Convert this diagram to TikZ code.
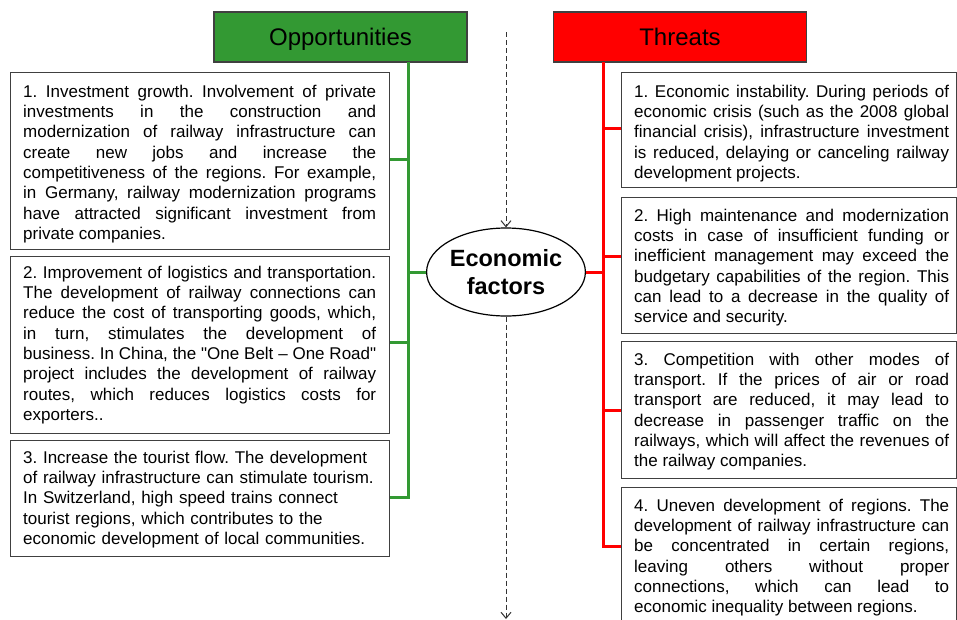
\documentclass[tikz,border=0pt]{standalone}
\usepackage{fontspec}
\setmainfont{Liberation Sans}[Ligatures=TeXOff]
\usetikzlibrary{shapes.geometric,arrows.meta}
\definecolor{oppgreen}{HTML}{339933}
\definecolor{thrred}{HTML}{FF0000}
\definecolor{boxgray}{HTML}{404040}
\newcommand\jbr{\linebreak}
\newcommand\firstline{\rule{0pt}{14pt}}
\hyphenpenalty=10000\relax
\exhyphenpenalty=10000\relax
\tolerance=10000\relax
\frenchspacing
\begin{document}
\begin{tikzpicture}[x=1pt,y=-1pt,
  boxnode/.style={draw=boxgray, line width=1.3pt, fill=white, inner sep=0pt, anchor=north west, rectangle},
  txtnode/.style={inner sep=0pt, anchor=north west, align=justify,
    font=\fontsize{17}{20.3}\selectfont},
  headnode/.style={draw=boxgray, line width=1.2pt, minimum width=253pt, minimum height=50pt, inner sep=0pt,
    font=\fontsize{24}{28}\selectfont, text height=17pt, text depth=0pt},
  gline/.style={draw=oppgreen, line width=3pt, line join=miter},
  rline/.style={draw=thrred, line width=3pt, line join=miter},
  dashline/.style={draw=black!80, line width=1pt, dash pattern=on 5pt off 3pt, -{Straight Barb[length=6pt,width=10pt]}}
]
\clip (0,0) rectangle (957,619);
\fill[white] (0,0) rectangle (957,619);

% headers
\node[headnode, fill=oppgreen] (opp) at (340.5,37) {Opportunities};
\node[headnode, fill=thrred] (thr) at (680,37) {Threats};

% central ellipse
\node[ellipse, draw=black, line width=1.2pt, fill=white, minimum width=156pt, minimum height=88pt, inner sep=0pt,
  align=center, font=\bfseries\fontsize{23.5}{28}\selectfont] (E) at (506,272) {Economic\\factors};

% dashed arrows
\coordinate (dtop) at (506,32);
\coordinate (dbot) at (506,619);
\draw[dashline] (dtop) -- (E.north);
\draw[dashline] (E.south) -- (dbot);

% left boxes
\node[boxnode, minimum width=379pt, minimum height=177pt] (L1) at (10,72) {};
\node[boxnode, minimum width=379pt, minimum height=177pt] (L2) at (10,256) {};
\node[boxnode, minimum width=379pt, minimum height=116pt] (L3) at (10,440) {};

\node[txtnode, text width=353pt] (L1t) at (23,83) {\firstline 1. Investment growth. Involvement of private\jbr
investments in the construction and\jbr
modernization of railway infrastructure can\jbr
create new jobs and increase the\jbr
competitiveness of the regions. For example,\jbr
in Germany, railway modernization programs\jbr
have attracted significant investment from\jbr
private companies.};

\node[txtnode, text width=353pt] (L2t) at (23,264) {\firstline 2. Improvement of logistics and transportation.\jbr
The development of railway connections can\jbr
reduce the cost of transporting goods, which,\jbr
in turn, stimulates the development of\jbr
business. In China, the "One Belt – One Road"\jbr
project includes the development of railway\jbr
routes, which reduces logistics costs for\jbr
exporters..};

\node[txtnode, text width=353pt, align=left] (L3t) at (23,449) {\firstline 3. Increase the tourist flow. The development\\
of railway infrastructure can stimulate tourism.\\
In Switzerland, high speed trains connect\\
tourist regions, which contributes to the\\
economic development of local communities.};

% right boxes
\node[boxnode, minimum width=335pt, minimum height=115pt] (R1) at (621,72) {};
\node[boxnode, minimum width=335pt, minimum height=136pt] (R2) at (621,197) {};
\node[boxnode, minimum width=335pt, minimum height=137pt] (R3) at (621,341) {};
\node[boxnode, minimum width=335pt, minimum height=150pt] (R4) at (621,487) {};

\node[txtnode, text width=315pt] (R1t) at (634,83) {\firstline 1. Economic instability. During periods of\jbr
economic crisis (such as the 2008 global\jbr
financial crisis), infrastructure investment\jbr
is reduced, delaying or canceling railway\jbr
development projects.};

\node[txtnode, text width=315pt] (R2t) at (634,207) {\firstline 2. High maintenance and modernization\jbr
costs in case of insufficient funding or\jbr
inefficient management may exceed the\jbr
budgetary capabilities of the region. This\jbr
can lead to a decrease in the quality of\jbr
service and security.};

\node[txtnode, text width=315pt] (R3t) at (634,351) {\firstline 3. Competition with other modes of\jbr
transport. If the prices of air or road\jbr
transport are reduced, it may lead to\jbr
decrease in passenger traffic on the\jbr
railways, which will affect the revenues of\jbr
the railway companies.};

\node[txtnode, text width=315pt] (R4t) at (634,497) {\firstline 4. Uneven development of regions. The\jbr
development of railway infrastructure can\jbr
be concentrated in certain regions,\jbr
leaving others without proper\jbr
connections, which can lead to\jbr
economic inequality between regions.};

% green connectors
\coordinate (gtop) at (408,62);
\coordinate (g1) at (408,159);
\coordinate (g2) at (408,272);
\coordinate (g3) at (408,342);
\coordinate (gbot) at (408,497);
\draw[gline] (gtop) -- (gbot) -- (gbot -| L3.east);
\draw[gline] (g1) -- (g1 -| L1.east);
\draw[gline] (g2) -- (E.west);
\draw[gline] (g3) -- (g3 -| L2.east);

% red connectors
\coordinate (rtop) at (603,62);
\coordinate (r1) at (603,128);
\coordinate (r2) at (603,256);
\coordinate (r3) at (603,272);
\coordinate (r4) at (603,410);
\coordinate (rbot) at (603,546);
\draw[rline] (rtop) -- (rbot) -- (rbot -| R4.west);
\draw[rline] (r1) -- (r1 -| R1.west);
\draw[rline] (r2) -- (r2 -| R2.west);
\draw[rline] (r3) -- (E.east);
\draw[rline] (r4) -- (r4 -| R3.west);
\end{tikzpicture}
\end{document}
